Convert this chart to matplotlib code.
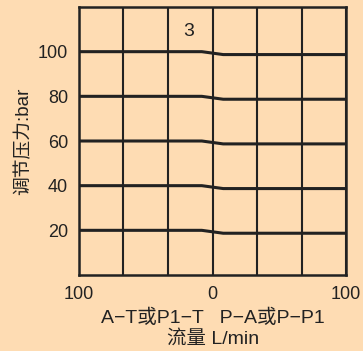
import matplotlib.pyplot as plt
import numpy as np

plt.rcParams['font.family'] = ['Liberation Sans', 'Noto Sans CJK SC', 'DejaVu Sans']

# pressure settings (bar) and the flow curve shape
levels = [100, 80, 60, 40, 20]
flow = [-100, -8, 8, 100]          # L/min, negative = A-T side
drop = [0.0, 0.0, -1.3, -1.3]      # bar, change vs set pressure
xticks = [-100, 0, 100]
xticklabels = ["100", "0", "100"]
yticks = [20, 40, 60, 80, 100]
grid_x = [-100, -66.7, -33.3, 0, 33.3, 66.7, 100]

bg = "#fedcb3"
ink = "#222222"

fig = plt.figure(figsize=(3.63, 3.51), dpi=100, facecolor=bg)
ax = fig.add_axes([79 / 363, 1 - 275 / 351, (346 - 79) / 363, (275 - 7) / 351])
ax.set_facecolor(bg)

for gx in grid_x:
    ax.axvline(gx, color=ink, lw=1.5, zorder=1)

for lv in levels:
    ax.plot(flow, np.array(drop) + lv, color=ink, lw=2.2, zorder=2)

ax.text(-18, 109, "3", fontsize=14, color=ink, ha="center", va="center")

ax.set_xlim(-100, 100)
ax.set_ylim(0, 120)
ax.set_xticks(xticks)
ax.set_xticklabels(xticklabels)
ax.set_yticks(yticks)
ax.tick_params(length=0, labelsize=13, colors=ink, pad=8)
for s in ax.spines.values():
    s.set_color(ink)
    s.set_linewidth(1.8)

ax.set_ylabel("调节压力:bar", fontsize=13.5, color=ink, labelpad=4)
fig.text(213 / 363, 1 - 318 / 351, "A−T或P1−T   P−A或P−P1", fontsize=14,
         color=ink, ha="center", va="center")
fig.text(213 / 363, 1 - 339 / 351, "流量 L/min", fontsize=14,
         color=ink, ha="center", va="center")

fig.savefig("out.png", dpi=100, facecolor=bg)
